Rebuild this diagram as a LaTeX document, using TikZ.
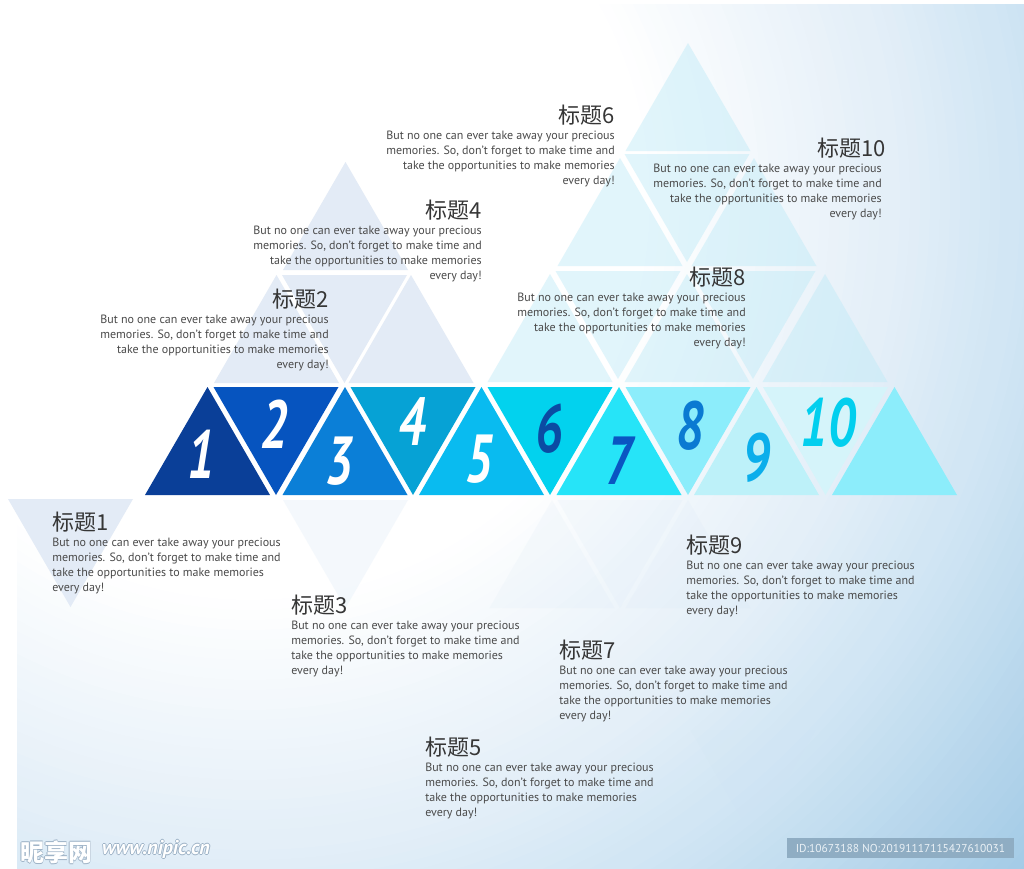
\documentclass[tikz,border=0pt]{standalone}
\usepackage{fontspec}
\setmainfont{PT Sans}
\newfontfamily\cjk{Noto Sans CJK SC}
\newfontfamily\numfont{PT Sans}
\definecolor{t1}{HTML}{0A3F98}
\definecolor{t2}{HTML}{0654BF}
\definecolor{t3}{HTML}{0B7FD7}
\definecolor{t4}{HTML}{06A2D5}
\definecolor{t5}{HTML}{09BBF0}
\definecolor{t6}{HTML}{02D2EE}
\definecolor{t7}{HTML}{26E4F8}
\definecolor{t8}{HTML}{8CEDFB}
\definecolor{t9}{HTML}{BDF1F9}
\definecolor{t10}{HTML}{D5F4FA}
\definecolor{t11}{HTML}{8CEDFB}
\definecolor{d6}{HTML}{0B4BA3}
\definecolor{d7}{HTML}{0A55C2}
\definecolor{d8}{HTML}{0A7AD2}
\definecolor{d9}{HTML}{0BAEEB}
\definecolor{d10}{HTML}{02CFEE}
\definecolor{lgcol}{HTML}{E3EBF6}
\definecolor{rgcol}{HTML}{BDEAF7}
\definecolor{fwcol}{HTML}{CFE3F4}
\definecolor{bgA}{HTML}{E4EFF8}
\definecolor{bgB}{HTML}{D2E6F4}
\definecolor{bgC}{HTML}{A3CBE6}
\definecolor{ttlgray}{HTML}{363636}
\definecolor{bodygray}{HTML}{4A4A4A}
\definecolor{wmgray}{HTML}{9DB2C6}
\definecolor{idfill}{HTML}{8FADC3}
\definecolor{idtext}{HTML}{EAF1F6}
\newcommand{\UpTri}[3][]{\fill[#1] ({#2-62.5},#3) -- ({#2+62.5},#3) -- (#2,{#3-108}) -- cycle;}
\newcommand{\DnTri}[3][]{\fill[#1] ({#2-62.5},#3) -- ({#2+62.5},#3) -- (#2,{#3+108}) -- cycle;}
\newcommand{\BodyText}{But no one can ever take away your precious\\memories. So, don't forget to make time and\\take the opportunities to make memories\\every day!}
\begin{document}
\begin{tikzpicture}[x=0.75pt,y=-0.75pt,
  dig/.style={font=\numfont\bfseries\itshape\fontsize{51}{51}\selectfont, inner sep=0},
  ttl/.style={font=\cjk\fontsize{16.5}{18}\selectfont, text=ttlgray, inner sep=0},
  bodytxt/.style={font=\fontsize{9}{11.1}\selectfont, text=bodygray, inner sep=0},
  lg/.style={fill=lgcol},
  rg/.style={fill=rgcol, fill opacity=0.45},
  fw/.style={fill=fwcol, fill opacity=0.12},
  wmk/.style={font=\cjk\bfseries\fontsize{18}{18}\selectfont, inner sep=0},
  wmu/.style={font=\bfseries\itshape\fontsize{15}{15}\selectfont, inner sep=0}]
\useasboundingbox (0,0) rectangle (1024,868);
\fill[white] (0,0) rectangle (1024,868);
\begin{scope}
  \clip (17,4) rectangle (1024,868);
  \foreach \r in {1040,1030,...,770} {
    \pgfmathsetmacro\p{min(100,(\r-770)/260*100)}
    \pgfmathsetmacro\rr{\r*0.75}
    \fill[bgC!\p!bgB] (250,200) circle (\rr pt);
  }
  \foreach \r in {760,750,...,650} {
    \pgfmathsetmacro\p{(\r-650)/110*100}
    \pgfmathsetmacro\rr{\r*0.75}
    \fill[bgB!\p!bgA] (250,200) circle (\rr pt);
  }
  \foreach \r in {640,630,...,400} {
    \pgfmathsetmacro\p{(\r-400)/240*100}
    \pgfmathsetmacro\rr{\r*0.75}
    \fill[bgA!\p!white] (250,200) circle (\rr pt);
  }
\end{scope}
% faint lattice below the row
\DnTri[lg]{70.5}{499}
\DnTri[fill=fwcol, fill opacity=0.22]{345.5}{500}
\UpTri[fw]{552}{608}
\DnTri[fw]{620}{500}
\UpTri[fw]{688}{608}
\DnTri[fw]{753}{730}
% left background group
\UpTri[lg]{345.5}{270}
\UpTri[lg]{276.5}{383}
\DnTri[lg]{344.5}{275}
\UpTri[lg]{411}{383}
% right background group
\UpTri[rg]{688}{151}
\UpTri[rg]{620}{266}
\DnTri[rg]{687}{154}
\UpTri[rg]{754}{266}
\UpTri[rg]{550}{382}
\DnTri[rg]{618}{271}
\UpTri[rg]{687}{382}
\DnTri[rg]{753}{271}
\UpTri[rg]{825}{382}
% main row
\UpTri[fill=t1]{207.5}{495}
\DnTri[fill=t2]{276}{387}
\UpTri[fill=t3]{345}{495}
\DnTri[fill=t4]{413}{387}
\UpTri[fill=t5]{481.5}{495}
\DnTri[fill=t6]{550}{387}
\UpTri[fill=t7]{619}{495}
\DnTri[fill=t8]{688}{387}
\UpTri[fill=t9]{756.5}{495}
\DnTri[fill=t10]{825.5}{387}
\UpTri[fill=t11]{894.5}{495}
% numbers
\node[dig, text=white] (n1) at (201,454) {\scalebox{0.74}[1]{1}};
\node[dig, text=white] (n2) at (274,424) {\scalebox{0.74}[1]{2}};
\node[dig, text=white] (n3) at (339,461) {\scalebox{0.74}[1]{3}};
\node[dig, text=white] (n4) at (412,422) {\scalebox{0.74}[1]{4}};
\node[dig, text=white] (n5) at (479,459) {\scalebox{0.74}[1]{5}};
\node[dig, text=d6] (n6) at (549,429) {\scalebox{0.74}[1]{6}};
\node[dig, text=d7] (n7) at (619,461) {\scalebox{0.74}[1]{7}};
\node[dig, text=d8] (n8) at (690,426) {\scalebox{0.74}[1]{8}};
\node[dig, text=d9] (n9) at (756,458) {\scalebox{0.74}[1]{9}};
\node[dig, text=d10] (n10) at (828,423) {\scalebox{0.74}[1]{10}};
% text blocks
\node[ttl, anchor=base west] (h1) at (52,530) {标题1};
\node[bodytxt, anchor=north west, align=left] (b1) at (52,538) {\BodyText};
\node[ttl, anchor=base east] (h2) at (329,307) {标题2};
\node[bodytxt, anchor=north east, align=right] (b2) at (329,315) {\BodyText};
\node[ttl, anchor=base west] (h3) at (291,613) {标题3};
\node[bodytxt, anchor=north west, align=left] (b3) at (291,621) {\BodyText};
\node[ttl, anchor=base east] (h4) at (482,218) {标题4};
\node[bodytxt, anchor=north east, align=right] (b4) at (482,226) {\BodyText};
\node[ttl, anchor=base west] (h5) at (425,755) {标题5};
\node[bodytxt, anchor=north west, align=left] (b5) at (425,763) {\BodyText};
\node[ttl, anchor=base east] (h6) at (615,123) {标题6};
\node[bodytxt, anchor=north east, align=right] (b6) at (615,131) {\BodyText};
\node[ttl, anchor=base west] (h7) at (559,658) {标题7};
\node[bodytxt, anchor=north west, align=left] (b7) at (559,666) {\BodyText};
\node[ttl, anchor=base east] (h8) at (746,285) {标题8};
\node[bodytxt, anchor=north east, align=right] (b8) at (746,293) {\BodyText};
\node[ttl, anchor=base west] (h9) at (686,553) {标题9};
\node[bodytxt, anchor=north west, align=left] (b9) at (686,561) {\BodyText};
\node[ttl, anchor=base east] (h10) at (886,156) {标题10};
\node[bodytxt, anchor=north east, align=right] (b10) at (882,164) {\BodyText};
% watermark
\foreach \dx/\dy [count=\k] in {-0.9/0, 0.9/0, 0/-0.9, 0/0.9} {
  \node[wmk, text=wmgray] (wmc\k) at ({56+\dx},{852+\dy}) {昵享网};
  \node[wmu, text=wmgray] (wmu\k) at ({156+\dx},{849+\dy}) {www.nipic.cn};
}
\node[wmk, text=white] (wmc) at (56,852) {昵享网};
\node[wmu, text=white] (wmu) at (156,849) {www.nipic.cn};
\node[fill=idfill, text=idtext, minimum width=170pt, minimum height=15pt, inner sep=0,
  font=\fontsize{8.6}{10}\selectfont] (idbox) at (900.5,848) {ID:10673188 NO:20191117115427610031};
\end{tikzpicture}
\end{document}
